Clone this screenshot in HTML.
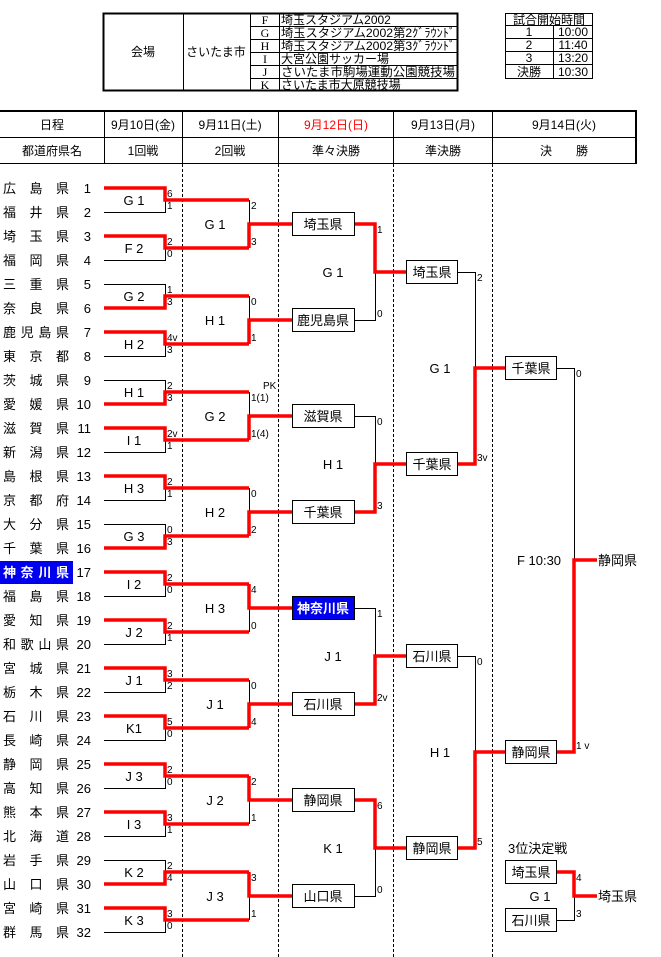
<!DOCTYPE html>
<html><head><meta charset="utf-8"><style>
html,body{margin:0;padding:0;background:#fff;}
svg{display:block;font-family:"Liberation Sans","Noto Sans CJK JP",sans-serif;}
.r{stroke:#f00;stroke-width:3.5;fill:none;}
.k{stroke:#000;stroke-width:1;fill:none;}
.s{font-size:10px;}
.l{font-size:13px;text-anchor:middle;}
.t{font-size:13px;}
.n{font-size:13px;text-anchor:end;}
.b{fill:#fff;stroke:#000;stroke-width:1;}
.bt{font-size:13px;text-anchor:middle;}
</style></head><body>
<svg width="661" height="957" viewBox="0 0 661 957" xmlns="http://www.w3.org/2000/svg">
<!-- venue table -->
<rect x="103.5" y="13.5" width="354" height="77" fill="none" stroke="#000" stroke-width="2"/>
<g class="k">
<line x1="183.5" y1="13" x2="183.5" y2="91"/><line x1="250.5" y1="13" x2="250.5" y2="91"/><line x1="279.5" y1="13" x2="279.5" y2="91"/>
<line x1="250" y1="26.5" x2="458" y2="26.5"/><line x1="250" y1="39.5" x2="458" y2="39.5"/><line x1="250" y1="52.5" x2="458" y2="52.5"/><line x1="250" y1="65.5" x2="458" y2="65.5"/><line x1="250" y1="78.5" x2="458" y2="78.5"/>
</g>
<g font-size="12">
<text x="143" y="56" text-anchor="middle">会場</text>
<text x="216" y="56" text-anchor="middle">さいたま市</text>
<g text-anchor="middle" font-family="Liberation Serif,serif"><text x="265" y="24">F</text><text x="265" y="37">G</text><text x="265" y="50">H</text><text x="265" y="63">I</text><text x="265" y="76">J</text><text x="265" y="89">K</text></g>
<text x="281" y="24">埼玉スタジアム2002</text>
<text x="281" y="37" textLength="174" lengthAdjust="spacingAndGlyphs">埼玉スタジアム2002第2ｸﾞﾗｳﾝﾄﾞ</text>
<text x="281" y="50" textLength="174" lengthAdjust="spacingAndGlyphs">埼玉スタジアム2002第3ｸﾞﾗｳﾝﾄﾞ</text>
<text x="281" y="63">大宮公園サッカー場</text>
<text x="281" y="76" textLength="174" lengthAdjust="spacingAndGlyphs">さいたま市駒場運動公園競技場</text>
<text x="281" y="89">さいたま市大原競技場</text>
</g>
<!-- time table -->
<rect x="505.5" y="13.5" width="87" height="65" fill="none" stroke="#000"/>
<g class="k"><line x1="553.5" y1="25" x2="553.5" y2="79"/><line x1="505" y1="25.5" x2="593" y2="25.5"/><line x1="505" y1="38.5" x2="593" y2="38.5"/><line x1="505" y1="51.5" x2="593" y2="51.5"/><line x1="505" y1="64.5" x2="593" y2="64.5"/></g>
<g font-size="12" text-anchor="middle">
<text x="549" y="24">試合開始時間</text>
<text x="529" y="36">1</text><text x="573" y="36">10:00</text>
<text x="529" y="49">2</text><text x="573" y="49">11:40</text>
<text x="529" y="62">3</text><text x="573" y="62">13:20</text>
<text x="529" y="76">決勝</text><text x="573" y="76">10:30</text>
</g>
<!-- header table -->
<line x1="0" y1="111" x2="637" y2="111" stroke="#000" stroke-width="2"/>
<line x1="636" y1="110" x2="636" y2="164" stroke="#000" stroke-width="2"/>
<g class="k">
<line x1="0" y1="137.5" x2="636" y2="137.5"/><line x1="0" y1="163.5" x2="636" y2="163.5"/>
<line x1="104.5" y1="110" x2="104.5" y2="163"/><line x1="182.5" y1="110" x2="182.5" y2="163"/><line x1="278.5" y1="110" x2="278.5" y2="163"/><line x1="393.5" y1="110" x2="393.5" y2="163"/><line x1="492.5" y1="110" x2="492.5" y2="163"/>
</g>
<g font-size="12" text-anchor="middle">
<text x="52" y="129">日程</text><text x="143" y="129">9月10日(金)</text><text x="230" y="129">9月11日(土)</text><text x="336" y="129" fill="#f00">9月12日(日)</text><text x="443" y="129">9月13日(月)</text><text x="564" y="129">9月14日(火)</text>
<text x="52" y="155">都道府県名</text><text x="143" y="155">1回戦</text><text x="230" y="155">2回戦</text><text x="336" y="155">準々決勝</text><text x="443" y="155">準決勝</text><text x="564" y="155">決　　勝</text>
</g>
<!-- dashed -->
<g stroke="#000" stroke-width="1" stroke-dasharray="3,2">
<line x1="182.5" y1="164" x2="182.5" y2="957"/><line x1="278.5" y1="164" x2="278.5" y2="957"/><line x1="393.5" y1="164" x2="393.5" y2="957"/><line x1="492.5" y1="164" x2="492.5" y2="957"/>
</g>
<!-- teams -->
<rect x="0" y="561" width="73" height="23" fill="#0000ee"/>
<g class="t">
<text x="3" y="193" textLength="66" lengthAdjust="spacing">広島県</text>
<text x="3" y="217" textLength="66" lengthAdjust="spacing">福井県</text>
<text x="3" y="241" textLength="66" lengthAdjust="spacing">埼玉県</text>
<text x="3" y="265" textLength="66" lengthAdjust="spacing">福岡県</text>
<text x="3" y="289" textLength="66" lengthAdjust="spacing">三重県</text>
<text x="3" y="313" textLength="66" lengthAdjust="spacing">奈良県</text>
<text x="3" y="337" textLength="66" lengthAdjust="spacing">鹿児島県</text>
<text x="3" y="361" textLength="66" lengthAdjust="spacing">東京都</text>
<text x="3" y="385" textLength="66" lengthAdjust="spacing">茨城県</text>
<text x="3" y="409" textLength="66" lengthAdjust="spacing">愛媛県</text>
<text x="3" y="433" textLength="66" lengthAdjust="spacing">滋賀県</text>
<text x="3" y="457" textLength="66" lengthAdjust="spacing">新潟県</text>
<text x="3" y="481" textLength="66" lengthAdjust="spacing">島根県</text>
<text x="3" y="505" textLength="66" lengthAdjust="spacing">京都府</text>
<text x="3" y="529" textLength="66" lengthAdjust="spacing">大分県</text>
<text x="3" y="553" textLength="66" lengthAdjust="spacing">千葉県</text>
<text x="3" y="577" textLength="66" lengthAdjust="spacing" fill="#fff" font-weight="bold">神奈川県</text>
<text x="3" y="601" textLength="66" lengthAdjust="spacing">福島県</text>
<text x="3" y="625" textLength="66" lengthAdjust="spacing">愛知県</text>
<text x="3" y="649" textLength="66" lengthAdjust="spacing">和歌山県</text>
<text x="3" y="673" textLength="66" lengthAdjust="spacing">宮城県</text>
<text x="3" y="697" textLength="66" lengthAdjust="spacing">栃木県</text>
<text x="3" y="721" textLength="66" lengthAdjust="spacing">石川県</text>
<text x="3" y="745" textLength="66" lengthAdjust="spacing">長崎県</text>
<text x="3" y="769" textLength="66" lengthAdjust="spacing">静岡県</text>
<text x="3" y="793" textLength="66" lengthAdjust="spacing">高知県</text>
<text x="3" y="817" textLength="66" lengthAdjust="spacing">熊本県</text>
<text x="3" y="841" textLength="66" lengthAdjust="spacing">北海道</text>
<text x="3" y="865" textLength="66" lengthAdjust="spacing">岩手県</text>
<text x="3" y="889" textLength="66" lengthAdjust="spacing">山口県</text>
<text x="3" y="913" textLength="66" lengthAdjust="spacing">宮崎県</text>
<text x="3" y="937" textLength="66" lengthAdjust="spacing">群馬県</text>
</g>
<g class="n">
<text x="91" y="193">1</text><text x="91" y="217">2</text><text x="91" y="241">3</text><text x="91" y="265">4</text><text x="91" y="289">5</text><text x="91" y="313">6</text><text x="91" y="337">7</text><text x="91" y="361">8</text><text x="91" y="385">9</text><text x="91" y="409">10</text><text x="91" y="433">11</text><text x="91" y="457">12</text><text x="91" y="481">13</text><text x="91" y="505">14</text><text x="91" y="529">15</text><text x="91" y="553">16</text><text x="91" y="577">17</text><text x="91" y="601">18</text><text x="91" y="625">19</text><text x="91" y="649">20</text><text x="91" y="673">21</text><text x="91" y="697">22</text><text x="91" y="721">23</text><text x="91" y="745">24</text><text x="91" y="769">25</text><text x="91" y="793">26</text><text x="91" y="817">27</text><text x="91" y="841">28</text><text x="91" y="865">29</text><text x="91" y="889">30</text><text x="91" y="913">31</text><text x="91" y="937">32</text>
</g>
<!-- black lines -->
<g class="k">
<polyline points="104,212.5 165.5,212.5 165.5,200"/>
<polyline points="104,260.5 165.5,260.5 165.5,248"/>
<polyline points="104,284.5 165.5,284.5 165.5,296"/>
<polyline points="104,356.5 165.5,356.5 165.5,344"/>
<polyline points="104,380.5 165.5,380.5 165.5,392"/>
<polyline points="104,452.5 165.5,452.5 165.5,440"/>
<polyline points="104,500.5 165.5,500.5 165.5,488"/>
<polyline points="104,524.5 165.5,524.5 165.5,536"/>
<polyline points="104,596.5 165.5,596.5 165.5,584"/>
<polyline points="104,644.5 165.5,644.5 165.5,632"/>
<polyline points="104,692.5 165.5,692.5 165.5,680"/>
<polyline points="104,740.5 165.5,740.5 165.5,728"/>
<polyline points="104,788.5 165.5,788.5 165.5,776"/>
<polyline points="104,836.5 165.5,836.5 165.5,824"/>
<polyline points="104,860.5 165.5,860.5 165.5,872"/>
<polyline points="104,932.5 165.5,932.5 165.5,920"/>
<line x1="249.5" y1="200" x2="249.5" y2="224"/>
<line x1="249.5" y1="296" x2="249.5" y2="320"/>
<line x1="249.5" y1="392" x2="249.5" y2="416"/>
<line x1="249.5" y1="488" x2="249.5" y2="512"/>
<line x1="249.5" y1="632" x2="249.5" y2="608"/>
<line x1="249.5" y1="680" x2="249.5" y2="704"/>
<line x1="249.5" y1="824" x2="249.5" y2="800"/>
<line x1="249.5" y1="920" x2="249.5" y2="896"/>
<polyline points="355,320.5 375.5,320.5 375.5,272"/>
<polyline points="355,416.5 375.5,416.5 375.5,464"/>
<polyline points="355,608.5 375.5,608.5 375.5,656"/>
<polyline points="355,896.5 375.5,896.5 375.5,848"/>
<polyline points="457,272.5 475.5,272.5 475.5,368"/>
<polyline points="457,656.5 475.5,656.5 475.5,752"/>
<polyline points="557,368.5 574.5,368.5 574.5,560"/>
<polyline points="557,920.5 574.5,920.5 574.5,896"/>
</g>
<!-- red lines -->
<g class="r">
<polyline points="104,188 165,188 165,200 249,200"/>
<polyline points="104,236 165,236 165,248 249,248"/>
<polyline points="104,308 165,308 165,296 249,296"/>
<polyline points="104,332 165,332 165,344 249,344"/>
<polyline points="104,404 165,404 165,392 249,392"/>
<polyline points="104,428 165,428 165,440 249,440"/>
<polyline points="104,476 165,476 165,488 249,488"/>
<polyline points="104,548 165,548 165,536 249,536"/>
<polyline points="104,572 165,572 165,584 249,584"/>
<polyline points="104,620 165,620 165,632 249,632"/>
<polyline points="104,668 165,668 165,680 249,680"/>
<polyline points="104,716 165,716 165,728 249,728"/>
<polyline points="104,764 165,764 165,776 249,776"/>
<polyline points="104,812 165,812 165,824 249,824"/>
<polyline points="104,884 165,884 165,872 249,872"/>
<polyline points="104,908 165,908 165,920 249,920"/>
<polyline points="249,248 249,224 292,224"/>
<polyline points="249,344 249,320 292,320"/>
<polyline points="249,440 249,416 292,416"/>
<polyline points="249,536 249,512 292,512"/>
<polyline points="249,584 249,608 292,608"/>
<polyline points="249,728 249,704 292,704"/>
<polyline points="249,776 249,800 292,800"/>
<polyline points="249,872 249,896 292,896"/>
<polyline points="355,224 375,224 375,272 407,272"/>
<polyline points="355,512 375,512 375,464 407,464"/>
<polyline points="355,704 375,704 375,656 407,656"/>
<polyline points="355,800 375,800 375,848 407,848"/>
<polyline points="457,464 475,464 475,368 505,368"/>
<polyline points="457,848 475,848 475,752 505,752"/>
<polyline points="557,752 574,752 574,560 597,560"/>
<polyline points="557,872 574,872 574,896 597,896"/>
</g>
<!-- boxes -->
<g class="b">
<rect x="292.5" y="212.5" width="62" height="23"/><rect x="292.5" y="308.5" width="62" height="23"/><rect x="292.5" y="404.5" width="62" height="23"/><rect x="292.5" y="500.5" width="62" height="23"/>
<rect x="292.5" y="596.5" width="62" height="23" fill="#0000ee"/><rect x="292.5" y="692.5" width="62" height="23"/><rect x="292.5" y="788.5" width="62" height="23"/><rect x="292.5" y="884.5" width="62" height="23"/>
<rect x="406.5" y="260.5" width="51" height="23"/><rect x="406.5" y="452.5" width="51" height="23"/><rect x="406.5" y="644.5" width="51" height="23"/><rect x="406.5" y="836.5" width="51" height="23"/>
<rect x="505.5" y="356.5" width="51" height="23"/><rect x="505.5" y="740.5" width="51" height="23"/>
<rect x="505.5" y="860.5" width="51" height="23"/><rect x="505.5" y="908.5" width="51" height="23"/>
</g>
<g class="bt">
<text x="323" y="229">埼玉県</text><text x="323" y="325">鹿児島県</text><text x="323" y="421">滋賀県</text><text x="323" y="517">千葉県</text>
<text x="323" y="613" fill="#fff" font-weight="bold">神奈川県</text><text x="323" y="709">石川県</text><text x="323" y="805">静岡県</text><text x="323" y="901">山口県</text>
<text x="432" y="277">埼玉県</text><text x="432" y="469">千葉県</text><text x="432" y="661">石川県</text><text x="432" y="853">静岡県</text>
<text x="531" y="373">千葉県</text><text x="531" y="757">静岡県</text>
<text x="531" y="877">埼玉県</text><text x="531" y="925">石川県</text>
</g>
<g class="t"><text x="598" y="565">静岡県</text><text x="598" y="901">埼玉県</text><text x="508" y="853">3位決定戦</text></g>
<!-- match labels -->
<g class="l">
<text x="134" y="205">G 1</text><text x="134" y="253">F 2</text><text x="134" y="301">G 2</text><text x="134" y="349">H 2</text><text x="134" y="397">H 1</text><text x="134" y="445">I 1</text><text x="134" y="493">H 3</text><text x="134" y="541">G 3</text>
<text x="134" y="589">I 2</text><text x="134" y="637">J 2</text><text x="134" y="685">J 1</text><text x="134" y="733">K1</text><text x="134" y="781">J 3</text><text x="134" y="829">I 3</text><text x="134" y="877">K 2</text><text x="134" y="925">K 3</text>
<text x="215" y="229">G 1</text><text x="215" y="325">H 1</text><text x="215" y="421">G 2</text><text x="215" y="517">H 2</text><text x="215" y="613">H 3</text><text x="215" y="709">J 1</text><text x="215" y="805">J 2</text><text x="215" y="901">J 3</text>
<text x="333" y="277">G 1</text><text x="333" y="469">H 1</text><text x="333" y="661">J 1</text><text x="333" y="853">K 1</text>
<text x="440" y="373">G 1</text><text x="440" y="757">H 1</text>
<text x="539" y="565">F 10:30</text><text x="540" y="901">G 1</text>
</g>
<!-- scores -->
<g class="s">
<text x="167" y="197">6</text><text x="167" y="209">1</text>
<text x="167" y="245">2</text><text x="167" y="257">0</text>
<text x="167" y="293">1</text><text x="167" y="305">3</text>
<text x="167" y="341">4v</text><text x="167" y="353">3</text>
<text x="167" y="389">2</text><text x="167" y="401">3</text>
<text x="167" y="437">2v</text><text x="167" y="449">1</text>
<text x="167" y="485">2</text><text x="167" y="497">1</text>
<text x="167" y="533">0</text><text x="167" y="545">3</text>
<text x="167" y="581">2</text><text x="167" y="593">0</text>
<text x="167" y="629">2</text><text x="167" y="641">1</text>
<text x="167" y="677">3</text><text x="167" y="689">2</text>
<text x="167" y="725">5</text><text x="167" y="737">0</text>
<text x="167" y="773">2</text><text x="167" y="785">0</text>
<text x="167" y="821">3</text><text x="167" y="833">1</text>
<text x="167" y="869">2</text><text x="167" y="881">4</text>
<text x="167" y="917">3</text><text x="167" y="929">0</text>
<text x="251" y="209">2</text><text x="251" y="245">3</text>
<text x="251" y="305">0</text><text x="251" y="341">1</text>
<text x="263" y="389">PK</text><text x="251" y="401">1(1)</text><text x="251" y="437">1(4)</text>
<text x="251" y="497">0</text><text x="251" y="533">2</text>
<text x="251" y="593">4</text><text x="251" y="629">0</text>
<text x="251" y="689">0</text><text x="251" y="725">4</text>
<text x="251" y="785">2</text><text x="251" y="821">1</text>
<text x="251" y="881">3</text><text x="251" y="917">1</text>
<text x="377" y="233">1</text><text x="377" y="317">0</text>
<text x="377" y="425">0</text><text x="377" y="509">3</text>
<text x="377" y="617">1</text><text x="377" y="701">2v</text>
<text x="377" y="809">6</text><text x="377" y="893">0</text>
<text x="477" y="281">2</text><text x="477" y="461">3v</text>
<text x="477" y="665">0</text><text x="477" y="845">5</text>
<text x="576" y="377">0</text><text x="576" y="749">1 v</text>
<text x="576" y="881">4</text><text x="576" y="917">3</text>
</g>
</svg>
</body></html>
